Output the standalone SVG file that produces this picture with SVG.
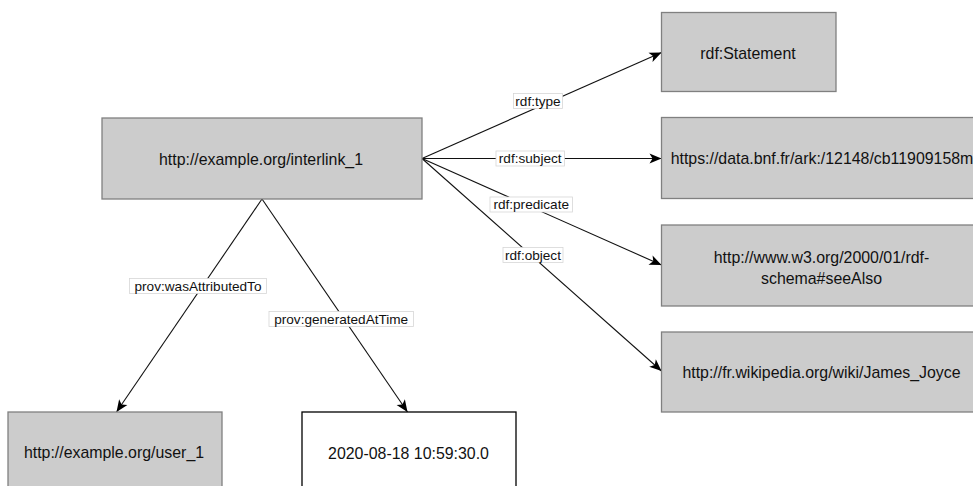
<svg xmlns="http://www.w3.org/2000/svg" width="973" height="486" viewBox="0 0 973 486">
  <style>
    .node { fill: #cccccc; stroke: #808080; stroke-width: 1.3; }
    .lit { fill: #ffffff; stroke: #000000; stroke-width: 1.3; }
    .txt { font-family: "Liberation Sans", Arial, sans-serif; font-size: 15.9px; fill: #111111; text-anchor: middle; }
    .edge { fill: none; stroke: #111111; stroke-width: 1.1; }
    .lbl-bg { fill: #ffffff; stroke: #d6d6d6; stroke-width: 0.8; }
    .lbl { font-family: "Liberation Sans", Arial, sans-serif; font-size: 13.6px; fill: #111111; text-anchor: middle; }
  </style>
  <defs>
    <marker id="arrow" markerUnits="userSpaceOnUse" markerWidth="14" markerHeight="12" viewBox="0 0 14 12" refX="13" refY="6" orient="auto">
      <path d="M1,1 L13,6 L1,11 L4,6 Z" fill="#000000"/>
    </marker>
  </defs>

  <rect width="973" height="486" fill="#ffffff"/>

  <!-- connectors -->
  <g id="connectors">
    <line class="edge" x1="262" y1="199" x2="116.5" y2="412" marker-end="url(#arrow)"/>
    <line class="edge" x1="262" y1="199" x2="407.5" y2="412" marker-end="url(#arrow)"/>
    <line class="edge" x1="422" y1="158.5" x2="661.5" y2="52.5" marker-end="url(#arrow)"/>
    <line class="edge" x1="422" y1="158.5" x2="661.5" y2="158.5" marker-end="url(#arrow)"/>
    <line class="edge" x1="422" y1="158.5" x2="661.5" y2="265" marker-end="url(#arrow)"/>
    <line class="edge" x1="422" y1="158.5" x2="661.5" y2="371" marker-end="url(#arrow)"/>

    <g id="label-type">
      <rect class="lbl-bg" x="513.5" y="93.5" width="49" height="15"/>
      <text class="lbl" x="538" y="105.5">rdf:type</text>
    </g>
    <g id="label-subject">
      <rect class="lbl-bg" x="496" y="151" width="68.5" height="15"/>
      <text class="lbl" x="530.2" y="163">rdf:subject</text>
    </g>
    <g id="label-predicate">
      <rect class="lbl-bg" x="490" y="197" width="82.5" height="15"/>
      <text class="lbl" x="531.2" y="209">rdf:predicate</text>
    </g>
    <g id="label-object">
      <rect class="lbl-bg" x="503" y="247.5" width="60" height="15"/>
      <text class="lbl" x="533" y="259.5">rdf:object</text>
    </g>
    <g id="label-attributed">
      <rect class="lbl-bg" x="129.5" y="278.5" width="137" height="15"/>
      <text class="lbl" x="198" y="290.5">prov:wasAttributedTo</text>
    </g>
    <g id="label-generated">
      <rect class="lbl-bg" x="269" y="311.5" width="144.5" height="15"/>
      <text class="lbl" x="341.2" y="323.5">prov:generatedAtTime</text>
    </g>
  </g>

  <!-- nodes -->
  <g id="interlink">
    <rect class="node" x="102" y="118" width="320" height="81"/>
    <text class="txt" x="261" y="165">http://example.org/interlink_1</text>
  </g>
  <g id="statement">
    <rect class="node" x="661.5" y="12.5" width="174.5" height="79"/>
    <text class="txt" x="748" y="58.5">rdf:Statement</text>
  </g>
  <g id="bnf">
    <rect class="node" x="661.5" y="117.5" width="320" height="81"/>
    <text class="txt" x="822" y="163.5">https://data.bnf.fr/ark:/12148/cb11909158m</text>
  </g>
  <g id="seealso">
    <rect class="node" x="661.5" y="225" width="320" height="81"/>
    <text class="txt" x="821.5" y="263">http://www.w3.org/2000/01/rdf-</text>
    <text class="txt" x="821.5" y="283.5">schema#seeAlso</text>
  </g>
  <g id="joyce">
    <rect class="node" x="661.5" y="332" width="320" height="80"/>
    <text class="txt" x="821.5" y="377.5">http://fr.wikipedia.org/wiki/James_Joyce</text>
  </g>
  <g id="user">
    <rect class="node" x="8" y="412" width="214" height="90"/>
    <text class="txt" x="114" y="458">http://example.org/user_1</text>
  </g>
  <g id="timestamp">
    <rect class="lit" x="302" y="412" width="214" height="90"/>
    <text class="txt" x="408.5" y="458.5">2020-08-18 10:59:30.0</text>
  </g>
</svg>
